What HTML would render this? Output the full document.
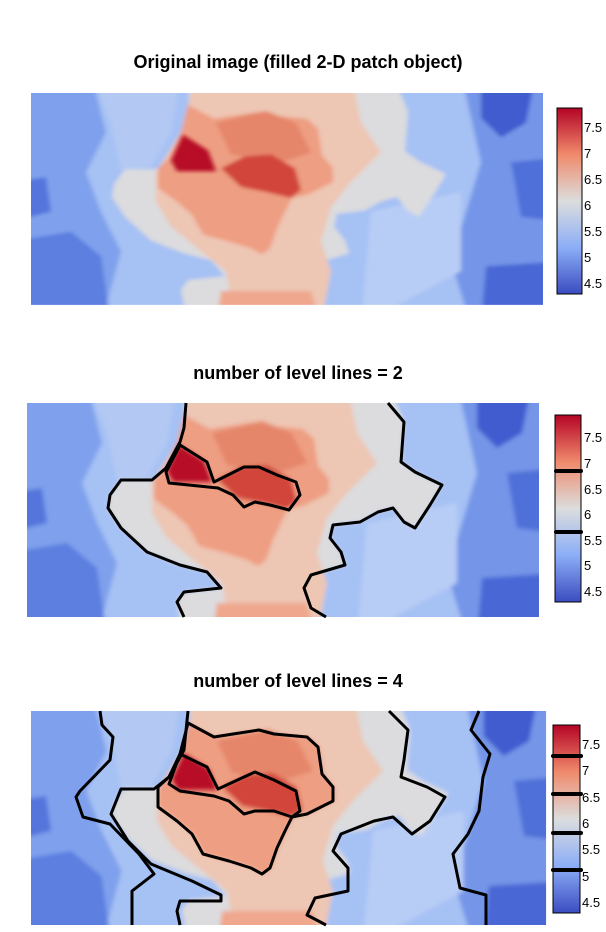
<!DOCTYPE html>
<html><head><meta charset="utf-8"><style>
html,body{margin:0;padding:0;background:#fff;}
svg{display:block;}
text{font-family:"Liberation Sans",Arial,sans-serif;}
</style></head><body>
<svg width="606" height="932" viewBox="0 0 606 932" xmlns="http://www.w3.org/2000/svg">
<defs>
<filter id="bl" x="-10%" y="-10%" width="120%" height="120%"><feGaussianBlur stdDeviation="2"/></filter>
<clipPath id="cp"><rect x="0" y="0" width="512" height="214"/></clipPath>
<linearGradient id="cb" x1="0" y1="0" x2="0" y2="1">
<stop offset="0" stop-color="#b40426"/><stop offset="0.25" stop-color="#f08a6c"/>
<stop offset="0.5" stop-color="#dcdddd"/><stop offset="0.75" stop-color="#8caef7"/>
<stop offset="1" stop-color="#3b4cc0"/></linearGradient>
<g id="field">
<g clip-path="url(#cp)"><g filter="url(#bl)">
<rect x="-20" y="-20" width="560" height="260" fill="#a6c1f4"/>
<polygon points="-20,-20 60,-20 75,40 55,80 70,120 90,160 70,234 -20,234" fill="#7fa0ec"/>
<polygon points="60,-20 150,-20 140,40 120,75 90,78 80,30" fill="#b3c9f3"/>
<polygon points="-20,150 40,140 70,165 80,234 -20,234" fill="#5b7fe0"/>
<polygon points="-20,90 15,85 20,120 -20,130" fill="#5575dc"/>
<polygon points="430,-20 532,-20 532,234 440,234 420,170 435,120 450,70" fill="#7495e8"/>
<polygon points="450,-20 505,-20 495,30 470,45 450,25" fill="#3f5ccf"/>
<polygon points="480,70 532,65 532,130 490,125" fill="#4f6fd8"/>
<polygon points="455,175 532,170 532,234 450,234" fill="#4a68d5"/>
<polygon points="340,120 430,100 430,180 330,234" fill="#b8cdf5"/>
<polygon points="159,-20 157,25 153,39 139,65 125,77 94,77 83,92 81,105 94,125 120,149 153,162 180,169 194,185 157,189 150,199 157,234 299,234 284,205 277,185 284,172 318,162 314,149 303,135 306,122 333,119 351,109 366,105 377,119 388,125 403,102 415,82 388,69 374,59 377,19 361,-20" fill="#dcdcde"/>
<polygon points="165,-20 320,-20 330,30 350,60 320,90 300,115 290,150 300,180 290,234 205,234 195,180 170,160 140,135 125,110 125,80 150,40" fill="#edc6b4"/>
<polygon points="157,12 183,26 202,23 228,19 243,23 276,26 287,36 291,63 302,76 302,90 276,103 261,106 254,120 246,137 239,157 231,163 220,157 198,150 172,143 161,123 146,110 127,96 127,76 138,66 149,43" fill="#ee9e82"/>
<polygon points="185,30 235,18 265,30 280,60 250,70 200,62" fill="#e5866a"/>
<polygon points="190,200 280,200 290,234 185,234" fill="#efa88e"/>
<polygon points="190,76 214,64 240,62 264,76 270,98 260,106 235,100 210,95" fill="#d2453a"/>
</g>
<polygon points="152,42 177,58 185,79 146,79 140,68" fill="#b70d28" filter="url(#bl)"/>
</g></g>
</defs>

<!-- Panel 1 -->
<text x="298" y="68" text-anchor="middle" font-size="18" font-weight="bold">Original image (filled 2-D patch object)</text>
<use href="#field" transform="translate(31,93) scale(1,0.99)"/>
<rect x="557" y="108" width="25" height="186" fill="url(#cb)" stroke="#000" stroke-width="1"/>
<g font-size="13" fill="#000">
<text x="584" y="132">7.5</text><text x="584" y="158">7</text><text x="584" y="184">6.5</text><text x="584" y="210">6</text><text x="584" y="236">5.5</text><text x="584" y="262">5</text><text x="584" y="288">4.5</text></g>

<!-- Panel 2 -->
<text x="298" y="379" text-anchor="middle" font-size="18" font-weight="bold">number of level lines =  2</text>
<use href="#field" transform="translate(27,403)"/>
<g transform="translate(27,403)" fill="none" stroke="#000" stroke-width="3" stroke-linejoin="round">
<polyline points="159,0 157,25 153,39 139,65 125,77 94,77 83,92 81,105 94,125 120,149 153,162 180,169 194,185 157,189 150,199 157,214"/>
<polyline points="361,0 377,19 374,59 388,69 415,82 403,102 388,125 377,119 366,105 351,109 333,119 306,122 303,135 314,149 318,162 284,172 277,185 284,205 299,214"/>
<polygon points="153,42 180,59 187,79 217,64 232,64 250,72 269,79 273,92 262,107 243,102 228,99 217,104 206,92 191,85 142,80 139,69"/>
</g>
<rect x="555" y="415" width="26" height="187" fill="url(#cb)" stroke="#000" stroke-width="1"/>
<rect x="554" y="469" width="29" height="4" rx="2" fill="#000"/>
<rect x="554" y="530" width="29" height="4" rx="2" fill="#000"/>
<g font-size="13" fill="#000">
<text x="584" y="442">7.5</text><text x="584" y="468">7</text><text x="584" y="494">6.5</text><text x="584" y="519">6</text><text x="584" y="545">5.5</text><text x="584" y="570">5</text><text x="584" y="596">4.5</text></g>

<!-- Panel 3 -->
<text x="298" y="687" text-anchor="middle" font-size="18" font-weight="bold">number of level lines =  4</text>
<use href="#field" transform="translate(31,711) scale(1.006,1)"/>
<g transform="translate(31,711)" fill="none" stroke="#000" stroke-width="3" stroke-linejoin="round">
<polyline points="69,0 71,14 82,26 79,49 49,80 45,86 52,106 79,113 108,143 123,163 101,180 101,214"/>
<polyline points="157,0 153,39 138,66 123,78 90,78 80,103 97,130 120,153 161,170 190,184 190,190 149,190 146,200 149,214"/>
<polyline points="358,0 377,19 373,49 370,66 396,76 414,86 399,110 381,123 362,106 343,110 310,123 302,140 317,157 317,180 284,187 276,204 295,214"/>
<polyline points="448,0 440,19 459,43 452,66 448,100 437,123 422,143 429,177 455,184 455,214"/>
<polygon points="157,12 183,26 202,23 228,19 243,23 276,26 287,36 291,63 302,76 302,90 276,103 261,106 254,120 246,137 239,157 231,163 220,157 198,150 172,143 161,123 146,110 127,96 127,76 138,66 149,43"/>
<polygon points="149,43 176,56 187,78 213,66 224,61 243,69 265,80 269,100 261,106 243,100 224,100 213,103 198,90 183,85 149,80 138,73"/>
</g>
<rect x="553" y="725" width="27" height="188" fill="url(#cb)" stroke="#000" stroke-width="1"/>
<rect x="551" y="754" width="32" height="4" rx="2" fill="#000"/>
<rect x="551" y="792" width="32" height="4" rx="2" fill="#000"/>
<rect x="551" y="831" width="32" height="4" rx="2" fill="#000"/>
<rect x="551" y="868" width="32" height="4" rx="2" fill="#000"/>
<g font-size="13" fill="#000">
<text x="582" y="749">7.5</text><text x="582" y="775">7</text><text x="582" y="802">6.5</text><text x="582" y="828">6</text><text x="582" y="854">5.5</text><text x="582" y="881">5</text><text x="582" y="907">4.5</text></g>
</svg>
</body></html>
